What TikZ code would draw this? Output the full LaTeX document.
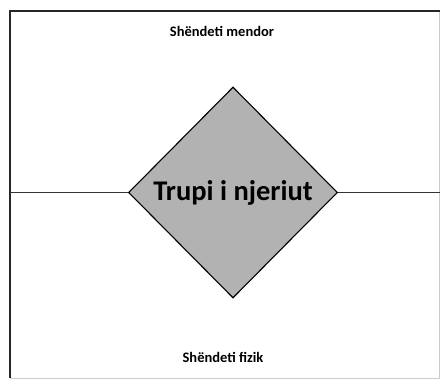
\documentclass[tikz,border=0pt]{standalone}
\usepackage{fontspec}
\setmainfont{Carlito}
\usetikzlibrary{shapes.geometric}

\begin{document}
\begin{tikzpicture}[x=1pt,y=-1pt]
      \tikzset{
        body/.style={draw, diamond, fill=gray!60, line width=1.1pt, inner sep=0pt, minimum width=209pt, minimum height=211pt, font=\bfseries\fontsize{28.5}{32}\selectfont},
        label/.style={font=\bfseries\fontsize{14.5}{16}\selectfont},
        line/.style={draw, line width=1.1pt, black!80},
      }
      \useasboundingbox (0,0) rectangle (441,380);
      % frame
      \draw [gray!40, line width=1pt] (10,11) -- (439.5,11) -- (439.5,378) -- (10,378);
      \draw [black!85, line width=2.2pt] (10,378) -- (10,11) -- (439.5,11);

      \node [body] (trupi) at (233,192.5) {Trupi i njeriut};
      \node [label] (mendor) at (222,31) {Shëndeti mendor};
      \node [label] (fizik) at (223,357) {Shëndeti fizik};

      \coordinate (lend) at (10,192.5);
      \coordinate (rend) at (440,192.5);

      \path [line] (lend)--(trupi.west);
      \path [line] (trupi.east)--(rend);
\end{tikzpicture}
\end{document}
